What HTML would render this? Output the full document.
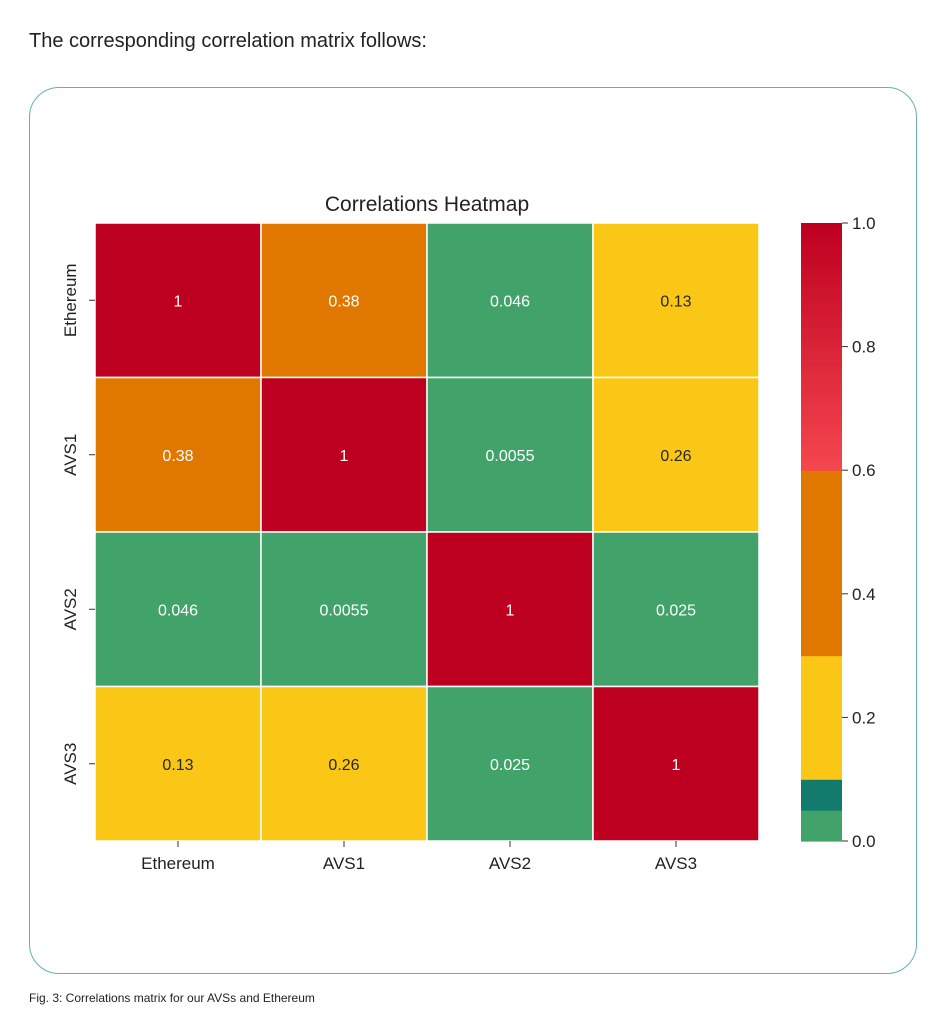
<!DOCTYPE html>
<html><head><meta charset="utf-8"><style>
body{margin:0;background:#fff;width:946px;height:1010px;overflow:hidden;font-family:"Liberation Sans","DejaVu Sans",sans-serif;}
#intro{position:absolute;left:29px;top:30px;font-size:20px;color:#222;}
#card{position:absolute;left:29px;top:87px;width:888px;height:887px;border:1.5px solid #68aeb9;border-radius:30px;box-sizing:border-box;}
#cap{position:absolute;left:29px;top:991px;font-size:12px;color:#222;}
svg{position:absolute;left:0;top:0;}
</style></head><body>
<div id="intro">The corresponding correlation matrix follows:</div>
<div id="card"></div>
<div id="cap">Fig. 3: Correlations matrix for our AVSs and Ethereum</div>
<svg id="chart" width="946" height="1010"></svg>
<script>
const labels=["Ethereum","AVS1","AVS2","AVS3"];
const row0=[1,0.38,0.046,0.13];
const row1=[0.38,1,0.0055,0.26];
const row2=[0.046,0.0055,1,0.025];
const row3=[0.13,0.26,0.025,1];
const cbTicks=[0,0.2,0.4,0.6,0.8,1.0];
const rows=[row0,row1,row2,row3];
const NS="http://www.w3.org/2000/svg";
const svg=document.getElementById('chart');
const X0=95,X1=759,Y0=223,Y1=841;
const cw=(X1-X0)/labels.length, ch=(Y1-Y0)/labels.length;
const xPos=i=>X0+i*cw, yPos=i=>Y0+i*ch;
const cbY=v=>Y1-v*(Y1-Y0);
function lerp(a,b,t){return Math.round(a+(b-a)*t);}
function color(v){
 if(v<0.05)return"#41a36a";
 if(v<0.1)return"#137b6e";
 if(v<0.3)return"#fbc716";
 if(v<0.6)return"#e07800";
 const t=(v-0.6)/0.4;
 return`rgb(${lerp(245,190,t)},${lerp(71,0,t)},${lerp(79,32,t)})`;
}
function el(tag,attrs,txt){const e=document.createElementNS(NS,tag);for(const k in attrs)e.setAttribute(k,attrs[k]);if(txt!==undefined)e.textContent=txt;svg.appendChild(e);return e;}
const title=el('text',{x:(X0+X1)/2,y:211,'text-anchor':'middle','font-size':21,fill:'#222'},'Correlations Heatmap');


rows.forEach((r,i)=>r.forEach((v,j)=>{
 const c=el('rect',{x:xPos(j),y:yPos(i),width:cw,height:ch,fill:color(v),stroke:'#fff','stroke-width':1.5});
 
 
 const t=el('text',{x:xPos(j)+cw/2,y:yPos(i)+ch/2+6,'text-anchor':'middle','font-size':16,fill:(v>=0.1&&v<0.3)?'#262626':'#fff'},String(v));
 
 
}));
labels.forEach((l,i)=>{
 const cx=xPos(i)+cw/2, cy=yPos(i)+ch/2;
 el('line',{x1:cx,x2:cx,y1:Y1,y2:Y1+6,stroke:'#333'});
 const xt=el('text',{x:cx,y:869,'text-anchor':'middle','font-size':17,fill:'#222'},l);
 
 
 el('line',{x1:X0-6,x2:X0,y1:cy,y2:cy,stroke:'#333'});
 const yt=el('text',{x:76,y:cy,'text-anchor':'middle','font-size':17,fill:'#222',transform:`rotate(-90 76 ${cy})`},l);
 
 
});
const CX=801,CW=41;
for(let k=0;k<200;k++){
 const v0=k/200,v1=(k+1)/200;
 const r=el('rect',{x:CX,y:cbY(v1),width:CW,height:cbY(v0)-cbY(v1)+0.6,fill:color((v0+v1)/2)});
 
 
}
cbTicks.forEach(v=>{
 el('line',{x1:CX+CW,x2:CX+CW+6,y1:cbY(v),y2:cbY(v),stroke:'#333'});
 const t=el('text',{x:CX+CW+10,y:cbY(v)+6,'font-size':17,fill:'#222'},v.toFixed(1));
 
 
});
</script>
</body></html>
